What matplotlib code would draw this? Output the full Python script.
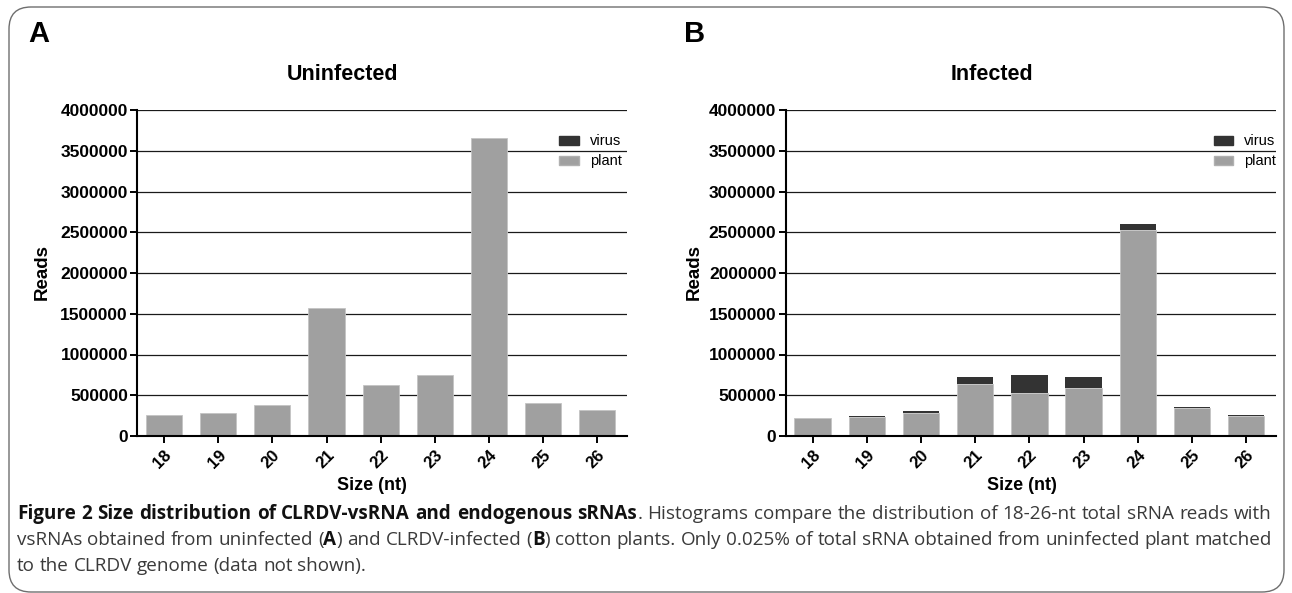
import matplotlib
matplotlib.use("Agg")
import matplotlib.pyplot as plt
from matplotlib.patches import Patch, FancyBboxPatch

# ---------------- data ----------------
sizes = ['18', '19', '20', '21', '22', '23', '24', '25', '26']
uninfected_plant = [260000, 280000, 380000, 1565000, 620000, 750000, 3660000, 410000, 320000]
uninfected_virus = [0, 0, 0, 0, 0, 0, 0, 0, 0]
infected_plant = [216000, 233000, 278000, 637000, 522000, 592000, 2522000, 347000, 249000]
infected_virus = [5000, 12000, 24000, 90000, 221000, 130000, 82000, 8000, 8000]
yticks = [0, 500000, 1000000, 1500000, 2000000, 2500000, 3000000, 3500000, 4000000]
panel_titles = ['Uninfected', 'Infected']
panel_letters = ['A', 'B']
legend_labels = ['virus', 'plant']
xlabel = 'Size (nt)'
ylabel = 'Reads'

W, H = 1292, 593
PLANT = '#a0a0a0'
VIRUS = '#333333'
plt.rcParams['font.family'] = ['Liberation Sans', 'DejaVu Sans']

fig = plt.figure(figsize=(W / 100, H / 100), dpi=100)


def fx(px):
    return px / W


def fy(py):
    return 1 - py / H


panels = [
    dict(left=137, right=627, plant=uninfected_plant, virus=uninfected_virus,
         title_x=342, xl_x=372, yl_x=42, letter_x=28, leg_x=0.862),
    dict(left=785.5, right=1276, plant=infected_plant, virus=infected_virus,
         title_x=992, xl_x=1022, yl_x=694, letter_x=684, leg_x=0.873),
]
top_px, bot_px = 110, 436

for i, p in enumerate(panels):
    ax = fig.add_axes([fx(p['left']), fy(bot_px), (p['right'] - p['left']) / W,
                       (bot_px - top_px) / H])
    x = list(range(len(sizes)))
    ax.bar(x, p['plant'], width=0.67, color=PLANT, edgecolor='#c4c4c4', linewidth=0.6, zorder=2)
    ax.bar(x, p['virus'], bottom=p['plant'], width=0.67, color=VIRUS, edgecolor=VIRUS,
           linewidth=0, zorder=2)
    ax.set_xlim(-0.5, 8.55)
    ax.set_ylim(0, 4000000)
    ax.set_yticks(yticks)
    ax.set_yticklabels([str(v) for v in yticks], fontsize=12.5, fontweight='bold')
    ax.set_xticks(x)
    ax.set_xticklabels(sizes, fontsize=12, fontweight='bold', rotation=45,
                       ha='right', va='top', rotation_mode='anchor')
    ax.yaxis.grid(True, color='#1a1a1a', linewidth=0.9, zorder=0)
    ax.set_axisbelow(True)
    for s in ['top', 'right']:
        ax.spines[s].set_visible(False)
    for s in ['left', 'bottom']:
        ax.spines[s].set_linewidth(1.5)
        ax.spines[s].set_color('black')
        ax.spines[s].set_zorder(3)
    ax.tick_params(axis='both', direction='out', length=5, width=1.4, color='black', pad=1.5)
    ax.tick_params(axis='x', pad=3)

    handles = [Patch(facecolor=VIRUS, edgecolor=VIRUS), Patch(facecolor=PLANT, edgecolor='#b0b0b0')]
    ax.legend(handles=handles, labels=legend_labels, loc='upper left',
              bbox_to_anchor=(p['leg_x'], 0.925), frameon=False, fontsize=10.5,
              handlelength=1.35, handleheight=0.6, handletextpad=0.75,
              labelspacing=0.4, borderpad=0, borderaxespad=0)

    fig.text(fx(p['title_x']), fy(75), panel_titles[i], fontsize=15.5, fontweight='bold',
             ha='center', va='center')
    fig.text(fx(p['xl_x']), fy(485), xlabel, fontsize=13, fontweight='bold',
             ha='center', va='center')
    fig.text(fx(p['yl_x']), fy(272), ylabel, fontsize=13.5, fontweight='bold',
             ha='center', va='center', rotation=90)
    fig.text(fx(p['letter_x']), fy(34), panel_letters[i], fontsize=21, fontweight='bold',
             ha='left', va='center')

# ---------------- border ----------------
border = FancyBboxPatch((9 / 100, (H - 592) / 100), (1284 - 9) / 100, (592 - 7) / 100,
                        boxstyle='round,pad=0,rounding_size=0.22',
                        transform=fig.dpi_scale_trans, facecolor='none',
                        edgecolor='#6e6e6e', linewidth=1.0, zorder=0)
fig.patches.append(border)

# ---------------- caption ----------------
CAP_FONT = ['Open Sans', 'DejaVu Sans']
cap_left, cap_right = 17, 1272
renderer = fig.canvas.get_renderer()


def piece_text(xpx, ypx, s, bold, size):
    return fig.text(fx(xpx), fy(ypx), s, fontsize=size, family=CAP_FONT,
                    fontweight='bold' if bold else 'normal',
                    color='#111111' if bold else '#3a3a3a', ha='left', va='center')


def measure(s, bold, size):
    t = piece_text(0, 0, s, bold, size)
    w = t.get_window_extent(renderer).width
    t.remove()
    return w


def words_from(segments):
    words = [[]]
    for s, b in segments:
        parts = s.split(' ')
        for k, part in enumerate(parts):
            if k > 0:
                words.append([])
            if part:
                words[-1].append((part, b))
    return [w for w in words if w]


def natural_width(words, size):
    space_w = measure('a a', False, size) - measure('aa', False, size)
    return sum(measure(s, b, size) for w in words for s, b in w) + space_w * (len(words) - 1)


def draw_line(words, ypx, justify, size):
    widths = [sum(measure(s, b, size) for s, b in w) for w in words]
    space_w = measure('a a', False, size) - measure('aa', False, size)
    if justify and len(words) > 1:
        gap = (cap_right - cap_left - sum(widths)) / (len(words) - 1)
    else:
        gap = space_w
    xcur = cap_left
    for w, ww in zip(words, widths):
        xp = xcur
        for s, b in w:
            t = piece_text(xp, ypx, s, b, size)
            xp += t.get_window_extent(renderer).width
        xcur += ww + gap


line1 = [("Figure 2 Size distribution of CLRDV-vsRNA and endogenous sRNAs", True),
         (". Histograms compare the distribution of 18-26-nt total sRNA reads with", False)]
line2 = [("vsRNAs obtained from uninfected (", False), ("A", True),
         (") and CLRDV-infected (", False), ("B", True),
         (") cotton plants. Only 0.025% of total sRNA obtained from uninfected plant matched", False)]
line3 = [("to the CLRDV genome (data not shown).", False)]

w1 = words_from(line1)
base = 10.0
cap_size = base * (cap_right - cap_left) / natural_width(w1, base) * 0.995

draw_line(w1, 514, True, cap_size)
draw_line(words_from(line2), 540, True, cap_size)
draw_line(words_from(line3), 566, False, cap_size)

fig.savefig('out.png', dpi=100)
